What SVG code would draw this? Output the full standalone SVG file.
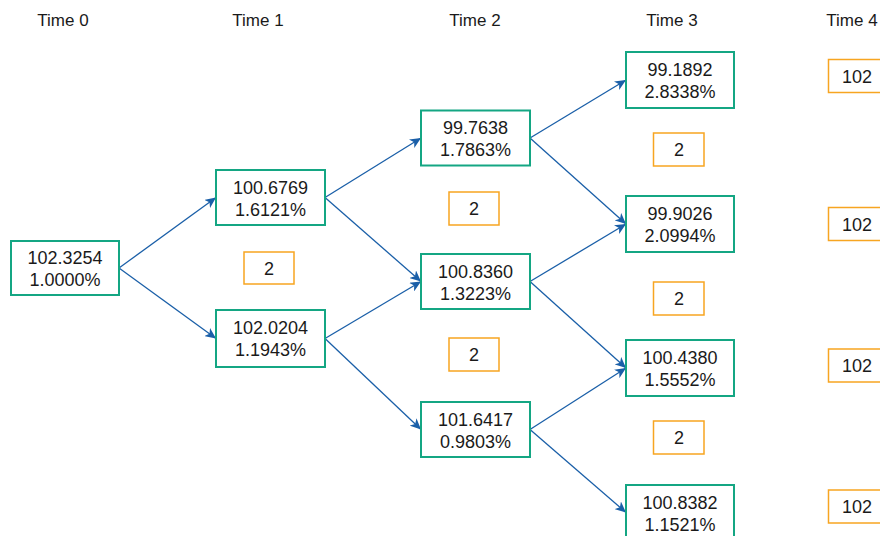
<svg xmlns="http://www.w3.org/2000/svg" width="880" height="536" viewBox="0 0 880 536">
<style>
.n rect{fill:#fff;stroke:#14a683;stroke-width:2}
.o rect{fill:#fff;stroke:#f7a521;stroke-width:1.5}
text{font-family:"Liberation Sans",Arial,sans-serif;font-size:18px;fill:#1a1a1a;text-anchor:middle}
.t{font-size:17px}
.e line{stroke:#1a5fa8;stroke-width:1.3;marker-end:url(#ah)}
</style>
<defs>
<marker id="ah" markerUnits="userSpaceOnUse" markerWidth="12" markerHeight="10" refX="11" refY="5" orient="auto">
<path d="M0,0 L11,5 L0,10 L3,5 z" fill="#1a5fa8"/>
</marker>
</defs>
<g id="labels">
<text class="t" x="63" y="26">Time 0</text>
<text class="t" x="258" y="26">Time 1</text>
<text class="t" x="475" y="26">Time 2</text>
<text class="t" x="672" y="26">Time 3</text>
<text class="t" x="852" y="26">Time 4</text>
</g>
<g id="connectors" class="e">
<line x1="119" y1="268" x2="216" y2="197.5"/>
<line x1="119" y1="268" x2="216" y2="338.5"/>
<line x1="325" y1="197.5" x2="421" y2="138"/>
<line x1="325" y1="197.5" x2="421" y2="281.5"/>
<line x1="325" y1="338.5" x2="421" y2="281.5"/>
<line x1="325" y1="338.5" x2="421" y2="429.5"/>
<line x1="530" y1="138" x2="626" y2="80"/>
<line x1="530" y1="138" x2="626" y2="224"/>
<line x1="530" y1="281.5" x2="626" y2="224"/>
<line x1="530" y1="281.5" x2="626" y2="368"/>
<line x1="530" y1="429.5" x2="626" y2="368"/>
<line x1="530" y1="429.5" x2="626" y2="512.5"/>
</g>
<g id="n0" class="n"><rect x="11" y="241" width="108" height="54"/><text x="65" y="264">102.3254</text><text x="65" y="286">1.0000%</text></g>
<g id="n1a" class="n"><rect x="216" y="170" width="109" height="55"/><text x="270.5" y="193.5">100.6769</text><text x="270.5" y="215.5">1.6121%</text></g>
<g id="n1b" class="n"><rect x="216" y="310" width="109" height="57"/><text x="270.5" y="334">102.0204</text><text x="270.5" y="356">1.1943%</text></g>
<g id="n2a" class="n"><rect x="421" y="110.5" width="109" height="55"/><text x="475.5" y="134">99.7638</text><text x="475.5" y="156">1.7863%</text></g>
<g id="n2b" class="n"><rect x="421" y="254" width="109" height="55"/><text x="475.5" y="277.5">100.8360</text><text x="475.5" y="299.5">1.3223%</text></g>
<g id="n2c" class="n"><rect x="421" y="402" width="109" height="55"/><text x="475.5" y="425.5">101.6417</text><text x="475.5" y="447.5">0.9803%</text></g>
<g id="n3a" class="n"><rect x="626" y="52" width="108" height="56"/><text x="680" y="75.5">99.1892</text><text x="680" y="97.5">2.8338%</text></g>
<g id="n3b" class="n"><rect x="626" y="196" width="108" height="56"/><text x="680" y="219.5">99.9026</text><text x="680" y="241.5">2.0994%</text></g>
<g id="n3c" class="n"><rect x="626" y="340" width="108" height="56"/><text x="680" y="363.5">100.4380</text><text x="680" y="385.5">1.5552%</text></g>
<g id="n3d" class="n"><rect x="626" y="485" width="108" height="56"/><text x="680" y="508.5">100.8382</text><text x="680" y="530.5">1.1521%</text></g>
<g id="c1" class="o"><rect x="244" y="252" width="50" height="32"/><text x="269" y="274.5">2</text></g>
<g id="c2a" class="o"><rect x="449" y="192" width="50" height="33"/><text x="474" y="215">2</text></g>
<g id="c2b" class="o"><rect x="449" y="338" width="50" height="33"/><text x="474" y="361">2</text></g>
<g id="c3a" class="o"><rect x="653.5" y="133" width="50.5" height="33"/><text x="679" y="156">2</text></g>
<g id="c3b" class="o"><rect x="653.5" y="282" width="50.5" height="33"/><text x="679" y="305">2</text></g>
<g id="c3c" class="o"><rect x="653.5" y="421" width="50.5" height="33"/><text x="679" y="444">2</text></g>
<g id="c4a" class="o"><rect x="828.5" y="59.5" width="58" height="33"/><text x="857" y="82.5">102</text></g>
<g id="c4b" class="o"><rect x="828.5" y="207.5" width="58" height="33"/><text x="857" y="230.5">102</text></g>
<g id="c4c" class="o"><rect x="828.5" y="349" width="58" height="33"/><text x="857" y="372">102</text></g>
<g id="c4d" class="o"><rect x="828.5" y="490" width="58" height="33"/><text x="857" y="513">102</text></g>
</svg>
